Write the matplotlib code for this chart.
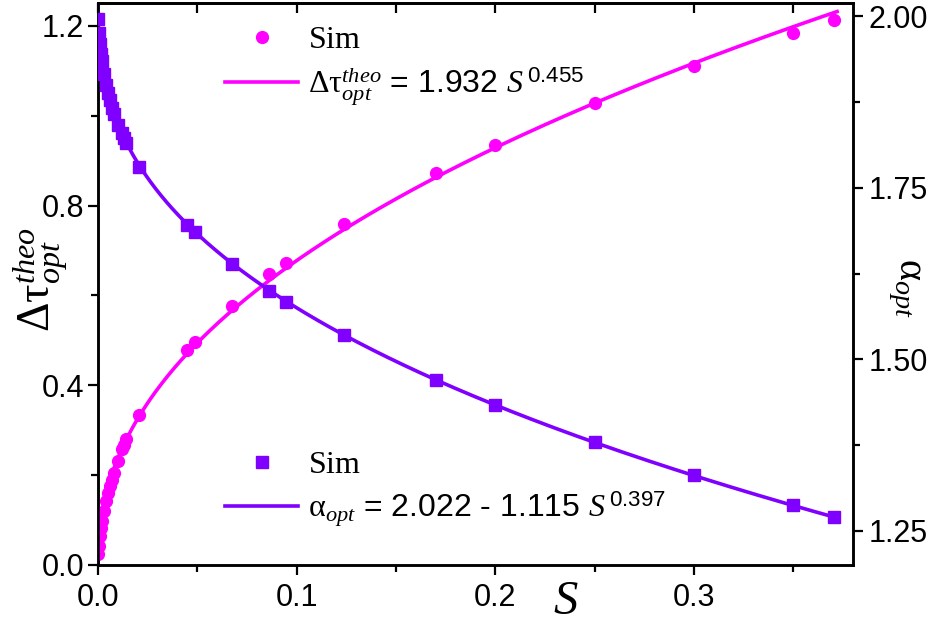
import matplotlib
matplotlib.use('Agg')
import matplotlib.pyplot as plt
import numpy as np
from matplotlib.lines import Line2D
from matplotlib.ticker import MultipleLocator

plt.rcParams['font.family'] = ['Liberation Sans', 'DejaVu Sans']
plt.rcParams['mathtext.fontset'] = 'custom'
plt.rcParams['mathtext.rm'] = 'Liberation Serif'
plt.rcParams['mathtext.it'] = 'Liberation Serif:italic'
plt.rcParams['mathtext.sf'] = 'Liberation Sans'

# simulation points
s_sim = [0.0002, 0.0005, 0.001, 0.0015, 0.002, 0.003, 0.004, 0.005, 0.006,
         0.007, 0.008, 0.010, 0.012, 0.013, 0.014, 0.0206, 0.0448, 0.0488,
         0.0675, 0.0861, 0.0947, 0.1236, 0.170, 0.200, 0.250, 0.300, 0.350, 0.3706]
tau_sim = [0.025, 0.042, 0.065, 0.082, 0.098, 0.120, 0.143, 0.160, 0.176,
           0.190, 0.205, 0.232, 0.259, 0.268, 0.281, 0.334, 0.479, 0.497,
           0.5775, 0.647, 0.673, 0.760, 0.872, 0.934, 1.028, 1.110, 1.184, 1.213]
alpha_sim = [1.995, 1.975, 1.960, 1.945, 1.935, 1.915, 1.900, 1.888, 1.877,
             1.866, 1.857, 1.842, 1.830, 1.823, 1.815, 1.780, 1.6956, 1.6855,
             1.639, 1.5995, 1.5835, 1.5355, 1.470, 1.4335, 1.3796, 1.3316, 1.288, 1.2704]

# fit coefficients as printed in the legend
tau_a, tau_b = 1.932, 0.455
alpha_c, alpha_a, alpha_b = 2.022, 1.115, 0.397

pink = '#FF00FF'
violet = '#8000FF'
fs = 22

fig = plt.figure(figsize=(9.35, 6.24), dpi=100)
ax = fig.add_axes([0.1048, 0.0946, 0.8075, 0.9006])
ax2 = ax.twinx()

s_fit = np.linspace(0, 0.372, 3000)
ax.plot(s_fit, tau_a * s_fit ** tau_b, color=pink, lw=2.6, zorder=2)
ax.plot(s_sim, tau_sim, 'o', color=pink, ms=8.5, zorder=3)
ax2.plot(s_fit, alpha_c - alpha_a * s_fit ** alpha_b, color=violet, lw=2.6, zorder=2)
ax2.plot(s_sim, alpha_sim, 's', color=violet, ms=8, zorder=3)

ax.set_xlim(0, 0.380)
ax.set_ylim(0, 1.251)
ax2.set_ylim(1.2005, 2.019)

ax.xaxis.set_major_locator(MultipleLocator(0.1))
ax.xaxis.set_minor_locator(MultipleLocator(0.05))
ax.yaxis.set_major_locator(MultipleLocator(0.4))
ax.yaxis.set_minor_locator(MultipleLocator(0.2))
ax2.yaxis.set_major_locator(MultipleLocator(0.25))
ax2.yaxis.set_minor_locator(MultipleLocator(0.125))
ax.xaxis.set_major_formatter(plt.FormatStrFormatter('%.1f'))
ax.yaxis.set_major_formatter(plt.FormatStrFormatter('%.1f'))
ax2.yaxis.set_major_formatter(plt.FormatStrFormatter('%.2f'))

ax.tick_params(axis='x', which='both', direction='out', top=False, labelsize=fs,
               width=1.6, pad=6)
ax.tick_params(axis='x', which='major', length=7)
ax.tick_params(axis='x', which='minor', length=5)
ax.tick_params(axis='y', which='both', direction='out', right=False, labelsize=fs,
               width=1.6, pad=3)
ax.tick_params(axis='y', which='major', length=7)
ax.tick_params(axis='y', which='minor', length=5)
ax2.tick_params(axis='y', which='both', direction='out', labelsize=fs, width=1.6, pad=4)
ax2.tick_params(axis='y', which='major', length=7)
ax2.tick_params(axis='y', which='minor', length=5)

# inward ticks along the top spine
top = ax.secondary_xaxis('top')
top.xaxis.set_major_locator(MultipleLocator(0.05))
top.tick_params(direction='in', length=7, width=1.6, labeltop=False)
top.spines['top'].set_linewidth(1.8)

for a in (ax, ax2):
    for sp in a.spines.values():
        sp.set_linewidth(1.8)

# axis titles placed where the reference puts them
ax.text(-0.077, 0.507, r'$\mathrm{\Delta\tau}^{theo}_{opt}$', transform=ax.transAxes,
        fontsize=33, rotation=90, ha='center', va='center')
ax2.text(1.069, 0.493, r'$\mathrm{\alpha}_{opt}$', transform=ax2.transAxes,
         fontsize=29, rotation=270, ha='center', va='center')
ax.text(0.62, -0.065, r'$S$', transform=ax.transAxes, fontsize=35,
        ha='center', va='center')

h1 = [Line2D([], [], ls='none', marker='o', color=pink, ms=8.5),
      Line2D([], [], color=pink, lw=2.6)]
l1 = [r'$\mathrm{Sim}$', r'$\mathrm{\Delta\tau}^{theo}_{opt}$ = 1.932 $S^{\,\mathsf{0.455}}$']
h2 = [Line2D([], [], ls='none', marker='s', color=violet, ms=8),
      Line2D([], [], color=violet, lw=2.6)]
l2 = [r'$\mathrm{Sim}$', r'$\mathrm{\alpha}_{opt}$ = 2.022 - 1.115 $S^{\,\mathsf{0.397}}$']

leg1 = ax2.legend(h1, l1, loc='upper left', bbox_to_anchor=(0.168, 0.96),
                  frameon=False, fontsize=23, handlelength=2.3, handletextpad=0.3,
                  labelspacing=0.3, borderpad=0, borderaxespad=0)
ax2.add_artist(leg1)
ax2.legend(h2, l2, loc='upper left', bbox_to_anchor=(0.168, 0.205),
           frameon=False, fontsize=23, handlelength=2.3, handletextpad=0.3,
           labelspacing=0.3, borderpad=0, borderaxespad=0)

fig.savefig('out.png', dpi=100)
